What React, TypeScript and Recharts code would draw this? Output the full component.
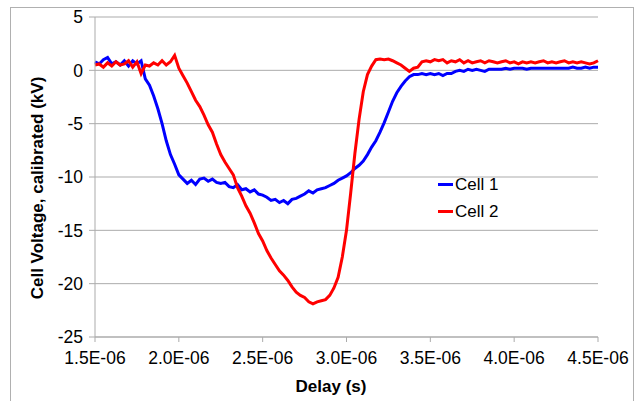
import { LineChart, Line, XAxis, YAxis, CartesianGrid, Legend, Label } from 'recharts'

const DELAY_US = [
  1.5, 1.525, 1.55, 1.575, 1.6, 1.625, 1.65, 1.675, 1.7, 1.725, 1.75, 1.775, 1.8, 1.825, 1.85, 1.875, 1.9, 1.925, 1.95, 1.975,
  2.0, 2.025, 2.05, 2.075, 2.1, 2.125, 2.15, 2.175, 2.2, 2.225, 2.25, 2.275, 2.3, 2.325, 2.35, 2.375, 2.4, 2.425, 2.45, 2.475,
  2.5, 2.525, 2.55, 2.575, 2.6, 2.625, 2.65, 2.675, 2.7, 2.725, 2.75, 2.775, 2.8, 2.825, 2.85, 2.875, 2.9, 2.925, 2.95, 2.975,
  3.0, 3.025, 3.05, 3.075, 3.1, 3.125, 3.15, 3.175, 3.2, 3.225, 3.25, 3.275, 3.3, 3.325, 3.35, 3.375, 3.4, 3.425, 3.45, 3.475,
  3.5, 3.525, 3.55, 3.575, 3.6, 3.625, 3.65, 3.675, 3.7, 3.725, 3.75, 3.775, 3.8, 3.825, 3.85, 3.875, 3.9, 3.925, 3.95, 3.975,
  4.0, 4.025, 4.05, 4.075, 4.1, 4.125, 4.15, 4.175, 4.2, 4.225, 4.25, 4.275, 4.3, 4.325, 4.35, 4.375, 4.4, 4.425, 4.45, 4.475,
  4.5,
]

const CELL1_KV = [
  0.8, 0.6, 1.0, 1.2, 0.6, 0.8, 0.5, 0.9, 0.4, 0.9, 0.6, 0.9, -0.8, -1.4, -2.4, -3.6, -5.0, -6.6, -7.9, -8.8,
  -9.8, -10.2, -10.6, -10.3, -10.7, -10.2, -10.1, -10.4, -10.2, -10.5, -10.6, -10.5, -10.9, -11.0, -10.7, -11.2, -11.1, -11.4, -11.2, -11.6,
  -11.7, -11.9, -12.2, -12.1, -12.4, -12.2, -12.5, -12.1, -12.0, -11.8, -11.6, -11.3, -11.5, -11.2, -11.1, -11.0, -10.8, -10.6, -10.3, -10.1,
  -9.9, -9.6, -9.2, -8.9, -8.5, -7.9, -7.2, -6.6, -5.8, -4.9, -3.9, -2.9, -2.1, -1.5, -1.0, -0.6, -0.4, -0.4, -0.3, -0.4,
  -0.3, -0.4, -0.3, -0.5, -0.3, -0.3, -0.1, 0.0, -0.1, 0.1, 0.0, 0.1, 0.0, -0.1, 0.1, 0.1, 0.1, 0.1, 0.2, 0.1,
  0.2, 0.2, 0.2, 0.1, 0.2, 0.2, 0.2, 0.2, 0.2, 0.2, 0.2, 0.2, 0.2, 0.2, 0.3, 0.2, 0.2, 0.3, 0.2, 0.3,
  0.3,
]

const CELL2_KV = [
  0.5, 0.6, 0.3, 0.7, 0.4, 0.8, 0.5, 0.6, 0.9, 0.3, 0.8, -0.3, 0.5, 0.4, 0.7, 0.5, 0.9, 0.5, 0.8, 1.4,
  0.2, -0.5, -1.2, -2.0, -2.8, -3.4, -4.2, -5.1, -5.8, -6.9, -7.9, -8.6, -9.2, -9.8, -11.0, -11.8, -12.7, -13.4, -14.3, -15.3,
  -16.0, -16.9, -17.6, -18.2, -18.8, -19.2, -19.7, -20.3, -20.8, -21.1, -21.3, -21.7, -21.9, -21.7, -21.6, -21.5, -21.1, -20.4, -19.4, -17.5,
  -15.0, -11.5, -7.8, -4.6, -2.0, -0.4, 0.4, 1.0, 1.05, 1.0, 1.05, 0.9, 0.7, 0.5, 0.2, -0.1, 0.2, 0.3, 0.8, 0.9,
  0.8, 1.0, 0.9, 1.0, 0.7, 0.9, 0.8, 1.0, 0.7, 0.9, 0.7, 0.8, 0.9, 0.7, 0.9, 0.8, 0.7, 0.8, 0.9, 0.7,
  0.8, 0.6, 0.8, 0.7, 0.8, 0.7, 0.8, 0.9, 0.7, 0.8, 0.7, 0.8, 0.9, 0.7, 0.8, 0.7, 0.8, 0.7, 0.6, 0.7,
  0.9,
]

const X_TICKS = [1.5e-6, 2.0e-6, 2.5e-6, 3.0e-6, 3.5e-6, 4.0e-6, 4.5e-6]
const Y_TICKS = [-25, -20, -15, -10, -5, 0, 5]

const SERIES = [
  { key: 'cell1', name: 'Cell 1', color: '#0000ff' },
  { key: 'cell2', name: 'Cell 2', color: '#ff0000' },
]

const FONT = '"Liberation Sans", Arial, sans-serif'
const GRID = '#ababab'

const data = DELAY_US.map((t, i) => ({ t: t * 1e-6, cell1: CELL1_KV[i], cell2: CELL2_KV[i] }))

// Excel style: 1.5E-06
const sci = (v: number) => {
  const [m, e] = v.toExponential(1).split('e')
  const n = Number(e)
  return `${m}E${n < 0 ? '-' : '+'}${String(Math.abs(n)).padStart(2, '0')}`
}

function LegendBox() {
  return (
    <div style={{ fontFamily: FONT, fontSize: 17, color: '#000' }}>
      {SERIES.map(s => (
        <div key={s.key} style={{ display: 'flex', alignItems: 'center', height: 27 }}>
          <span style={{ width: 15, height: 3, background: s.color, display: 'inline-block', marginRight: 2 }} />
          <span>{s.name}</span>
        </div>
      ))}
    </div>
  )
}

export default function App() {
  return (
    <div style={{ position: 'absolute', left: 0, top: 0, width: 639, height: 401, background: '#fff', overflow: 'hidden' }}>
      <div style={{ position: 'absolute', left: 10, top: 7, width: 622, height: 420, border: '1px solid #b0b0b0' }} />
      <div style={{ position: 'absolute', left: 0, top: 0 }}>
        <LineChart width={639} height={401} data={data} margin={{ top: 17, right: 41, bottom: 0, left: 0 }}>
          <CartesianGrid vertical={false} stroke={GRID} />
          <XAxis
            dataKey="t"
            type="number"
            domain={[1.5e-6, 4.5e-6]}
            ticks={X_TICKS}
            tickFormatter={sci}
            height={64}
            stroke={GRID}
            tickSize={5}
            tickMargin={10}
            tick={{ fontSize: 17.5, fill: '#000', fontFamily: FONT }}
          >
            <Label
              content={() => (
                <text x={331} y={392} textAnchor="middle" fontFamily={FONT} fontSize={17} fontWeight="bold" fill="#000">
                  Delay (s)
                </text>
              )}
            />
          </XAxis>
          <YAxis
            type="number"
            domain={[-25, 5]}
            ticks={Y_TICKS}
            width={95}
            stroke={GRID}
            tickSize={6}
            tickMargin={6}
            tick={{ fontSize: 17.5, fill: '#000', fontFamily: FONT }}
          >
            <Label
              content={() => (
                <text
                  x={43}
                  y={188}
                  transform="rotate(-90, 43, 188)"
                  textAnchor="middle"
                  fontFamily={FONT}
                  fontSize={17}
                  fontWeight="bold"
                  fill="#000"
                >
                  Cell Voltage, calibrated (kV)
                </text>
              )}
            />
          </YAxis>
          <Legend
            layout="vertical"
            align="center"
            verticalAlign="middle"
            content={() => <LegendBox />}
            wrapperStyle={{ left: 438, top: 171, width: 90 }}
          />
          {SERIES.map(s => (
            <Line
              key={s.key}
              type="linear"
              dataKey={s.key}
              name={s.name}
              stroke={s.color}
              strokeWidth={3}
              dot={false}
              isAnimationActive={false}
            />
          ))}
        </LineChart>
      </div>
    </div>
  )
}
